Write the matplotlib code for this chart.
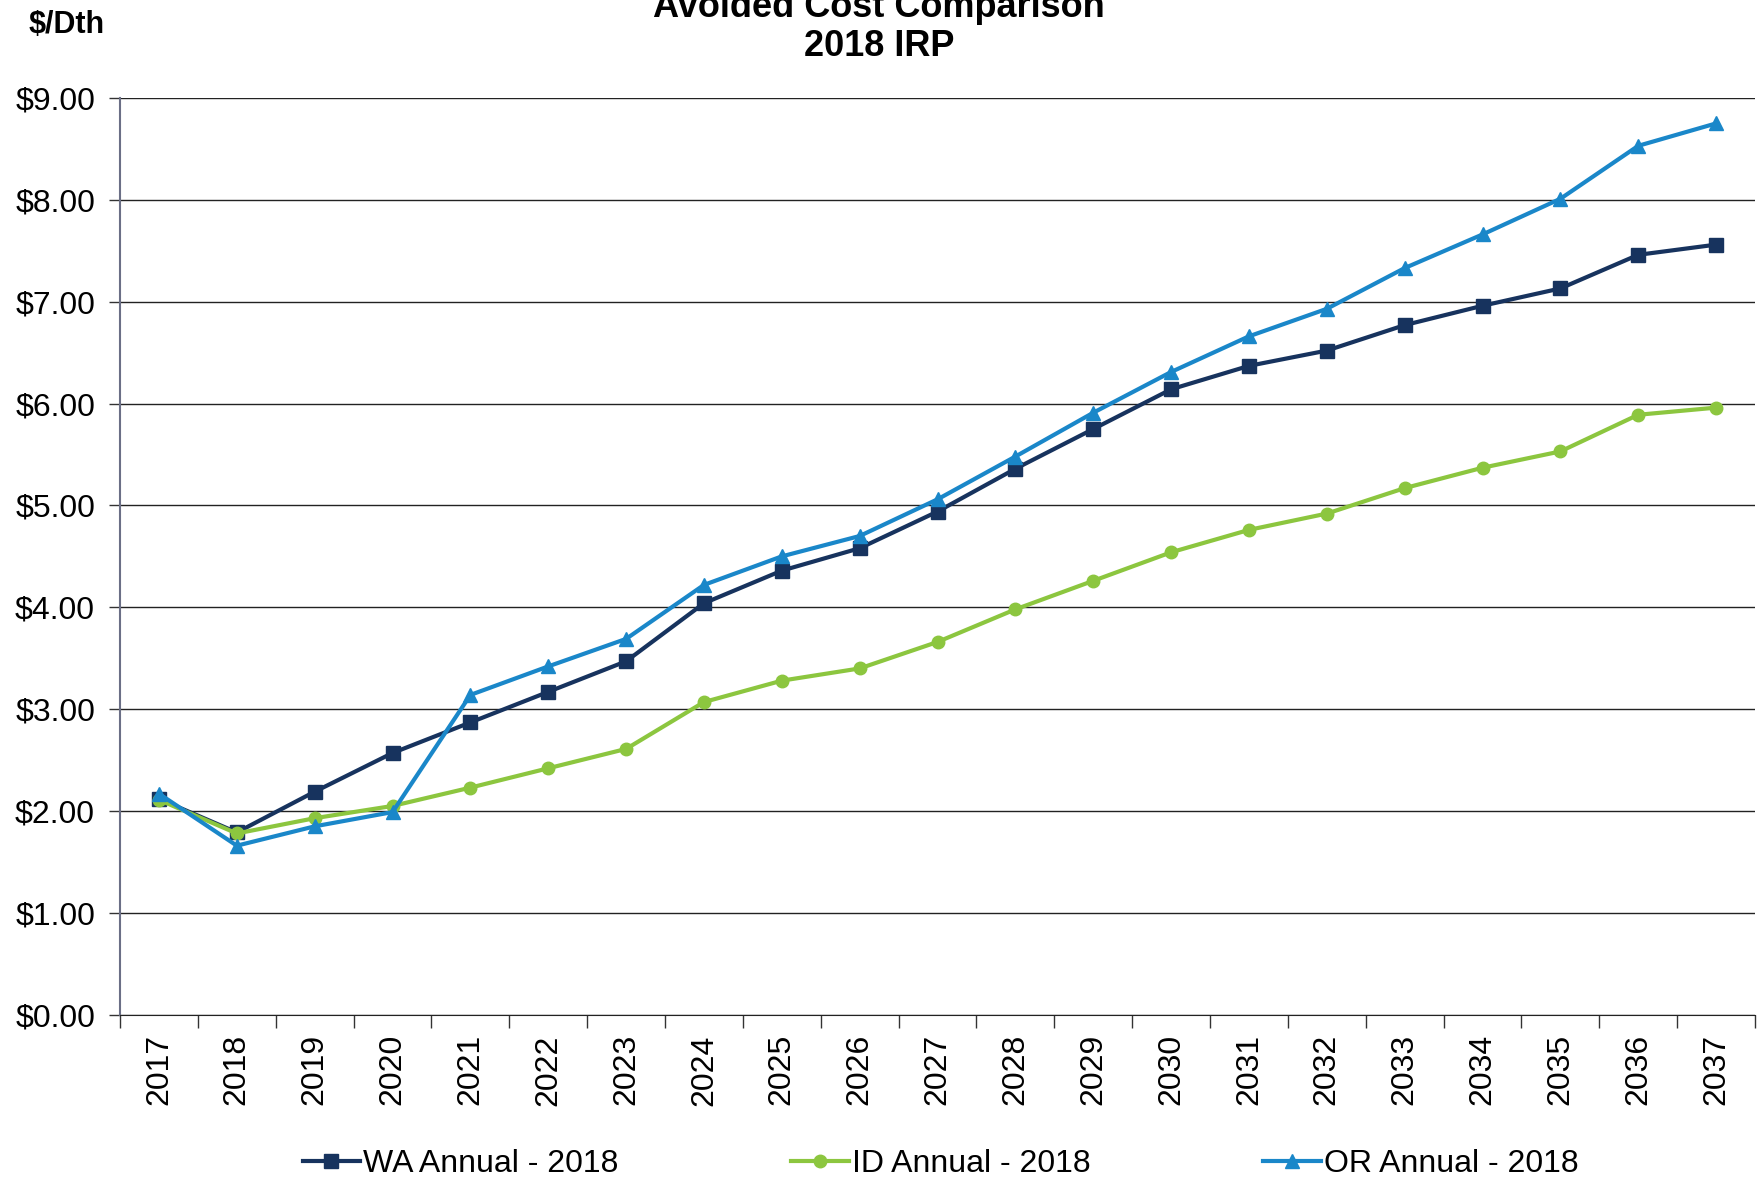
import numpy as np
import matplotlib
matplotlib.use("Agg")
import matplotlib.pyplot as plt

plt.rcParams["font.family"] = ["Liberation Sans", "DejaVu Sans"]

# ----------------------------------------------------
# Avoided cost by state, $/Dth
# ----------------------------------------------------
years = [str(y) for y in range(2017, 2038)]

wa_annual = [2.12, 1.79, 2.19, 2.57, 2.87, 3.17, 3.47, 4.04, 4.36, 4.58, 4.94,
             5.36, 5.75, 6.14, 6.37, 6.52, 6.77, 6.96, 7.13, 7.46, 7.56]
id_annual = [2.11, 1.78, 1.93, 2.05, 2.23, 2.42, 2.61, 3.07, 3.28, 3.40, 3.66,
             3.98, 4.26, 4.54, 4.76, 4.92, 5.17, 5.37, 5.53, 5.89, 5.96]
or_annual = [2.17, 1.66, 1.85, 1.99, 3.14, 3.42, 3.69, 4.22, 4.50, 4.70, 5.06,
             5.48, 5.91, 6.31, 6.66, 6.93, 7.33, 7.66, 8.01, 8.53, 8.75]

series = [
    ("WA Annual - 2018", wa_annual, "#17335E", "s", 10),
    ("ID Annual - 2018", id_annual, "#8CC63F", "o", 9),
    ("OR Annual - 2018", or_annual, "#1A87C9", "^", 10),
]

fig = plt.figure(figsize=(17.58, 11.80), dpi=100)
ax = fig.add_axes([0.0683, 0.140, 0.930, 0.777])

x = np.arange(len(years))
for label, vals, color, marker, ms in series:
    ax.plot(x, vals, color=color, marker=marker, markersize=ms,
            linewidth=3.0, label=label)

ax.set_xlim(-0.5, len(years) - 0.5)
ax.set_ylim(0, 9)
ax.set_yticks(np.arange(0, 10, 1))
ax.set_yticklabels([f"${v:.2f}" for v in range(10)], fontsize=23)
ax.yaxis.grid(True, color="#222222", linewidth=1.0)
ax.set_axisbelow(True)

# year labels at category centres, tick marks between categories
ax.set_xticks(x)
ax.set_xticklabels(years, rotation=90, fontsize=23)
ax.set_xticks(np.arange(-0.5, len(years), 1), minor=True)
ax.tick_params(axis="x", which="major", length=0, pad=14)
ax.tick_params(axis="x", which="minor", length=9, width=1, color="#333333")
ax.tick_params(axis="y", length=8, width=1, color="#333333", pad=10)

for side in ["top", "right"]:
    ax.spines[side].set_visible(False)
ax.spines["left"].set_color("#6B6F86")
ax.spines["left"].set_linewidth(1.5)
ax.spines["bottom"].set_color("#222222")

fig.text(0.5, 0.9775, "Avoided Cost Comparison\n2018 IRP", ha="center",
         va="center", fontsize=26, fontweight="bold", linespacing=1.15)
fig.text(0.038, 0.979, "$/Dth", ha="center", va="center", fontsize=22,
         fontweight="bold")

fig.legend(loc="center", bbox_to_anchor=(0.535, 0.0136), ncol=3,
           frameon=False, fontsize=23, handlelength=1.8, handletextpad=0.1,
           columnspacing=5.4)

fig.savefig("out.png", dpi=100)
